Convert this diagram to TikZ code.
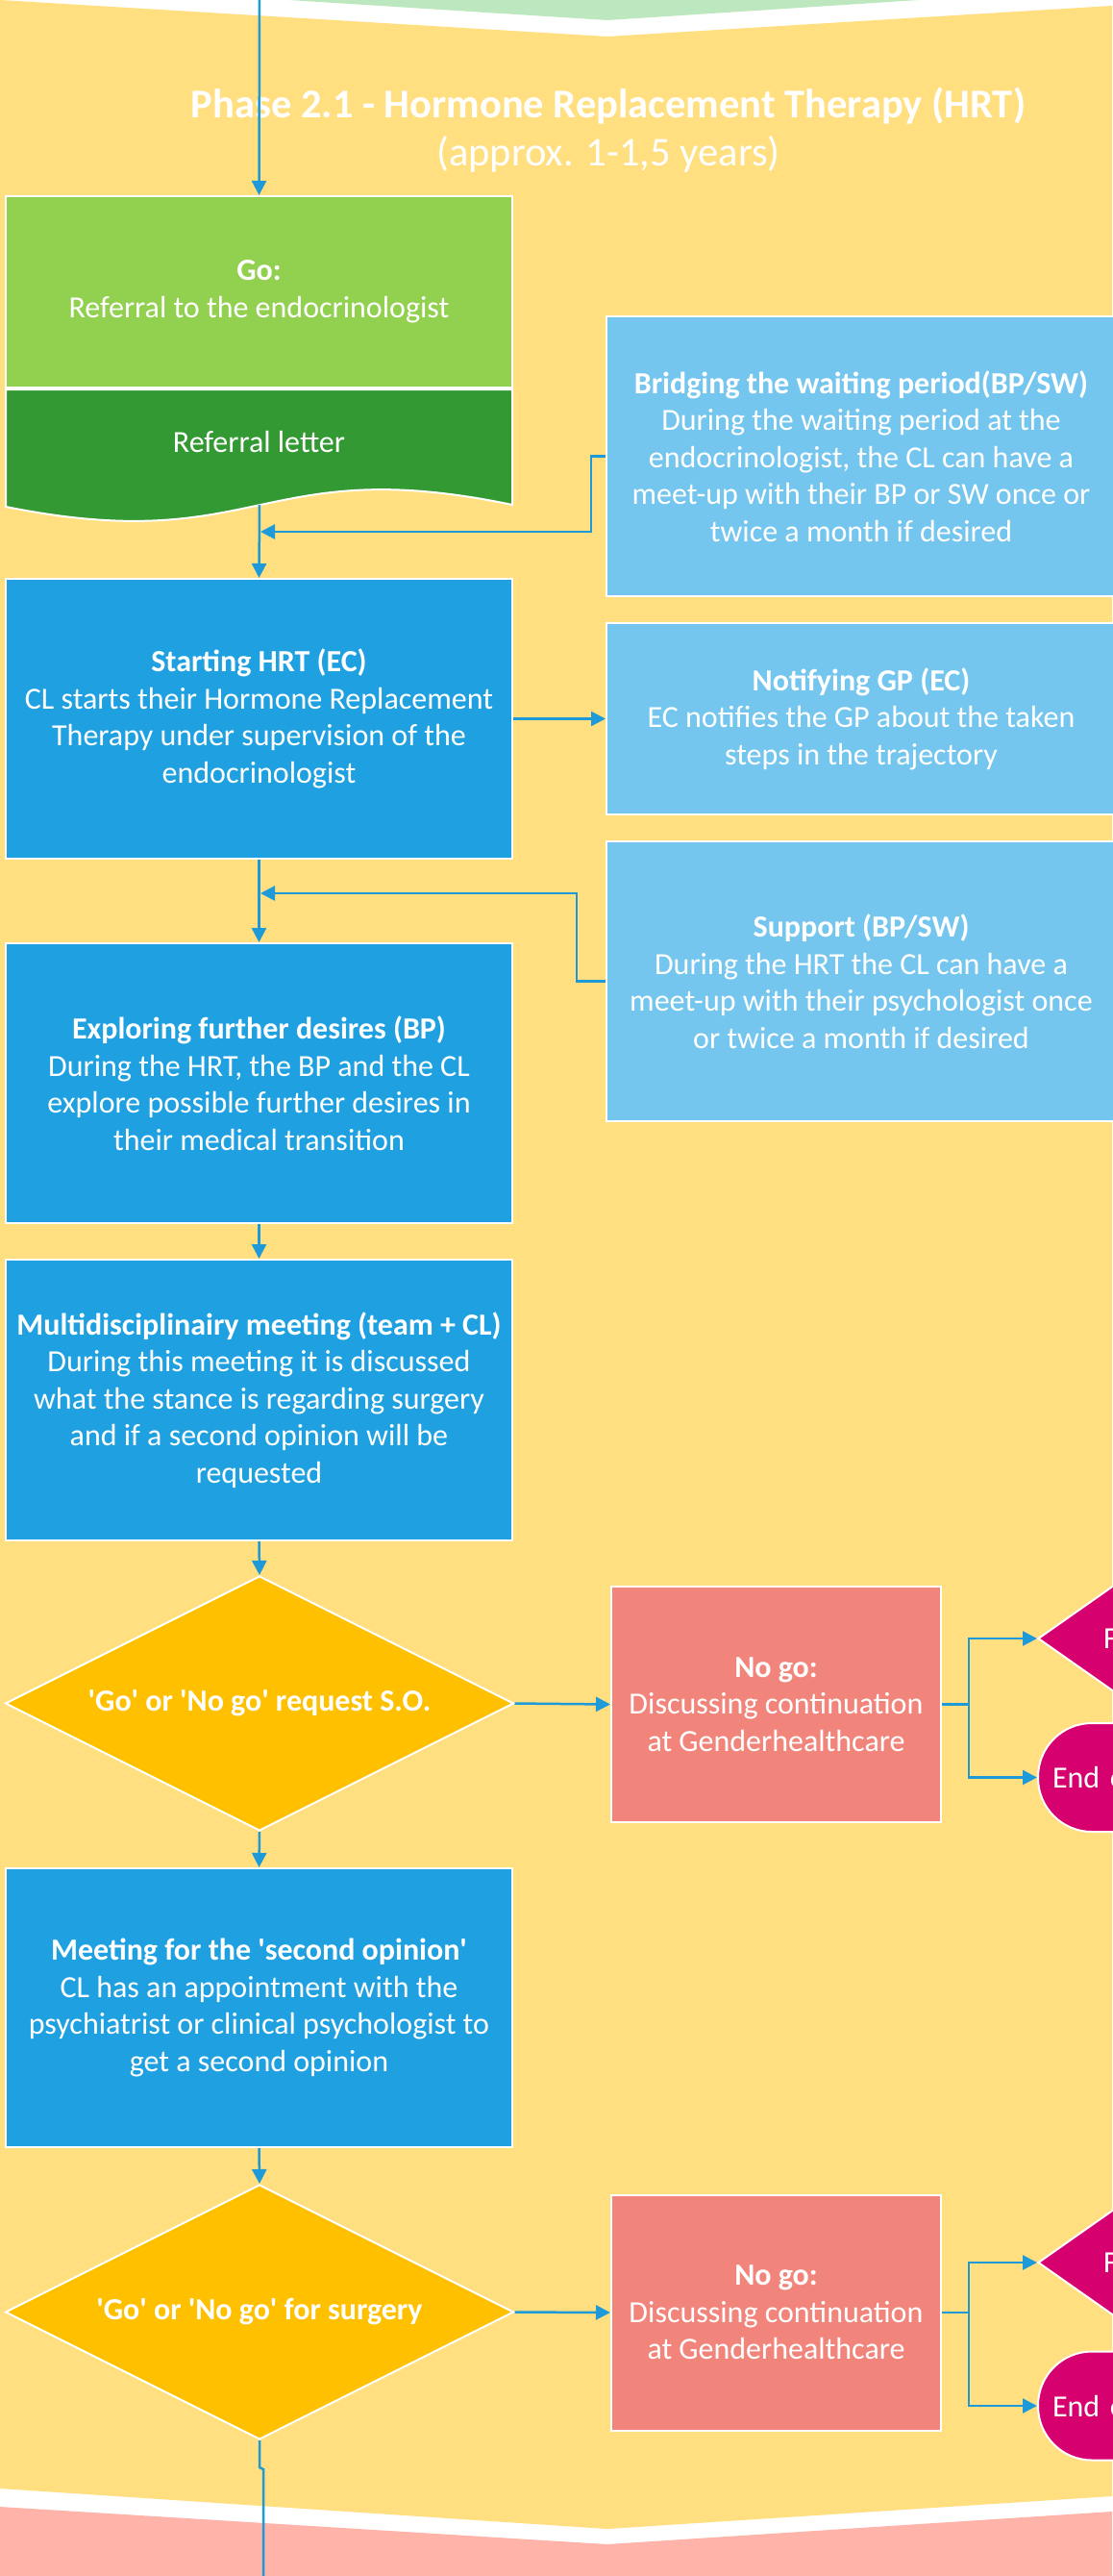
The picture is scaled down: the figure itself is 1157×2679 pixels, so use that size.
\documentclass[tikz,border=0pt]{standalone}
\usepackage{fontspec}
\setmainfont{Carlito}
\usetikzlibrary{shapes.geometric,arrows.meta}
\definecolor{bgyellow}{HTML}{FFDF80}
\definecolor{topgreen}{HTML}{BDE8BF}
\definecolor{botpink}{HTML}{FFB3A9}
\definecolor{lgreen}{HTML}{92D050}
\definecolor{dgreen}{HTML}{339933}
\definecolor{mblue}{HTML}{1FA0E0}
\definecolor{lblue}{HTML}{75C6EE}
\definecolor{amber}{HTML}{FFC000}
\definecolor{salmon}{HTML}{F1857C}
\definecolor{magen}{HTML}{D6006F}
\definecolor{lineblue}{HTML}{1E9AD8}
\newcommand{\myq}{\textquotesingle}
\begin{document}
\begin{tikzpicture}[x=1pt,y=-1pt,
  txt/.style={text=white, align=center, font=\fontsize{32}{38.5}\selectfont},
  box/.style={txt, rectangle, draw=white, line width=2pt, inner sep=0pt, minimum width=527pt},
  rbox/.style={box, fill=lblue, minimum width=530pt},
  nogo/.style={box, fill=salmon, minimum width=343pt, minimum height=245pt},
  dia/.style={txt, diamond, aspect=2, draw=white, line width=2pt, inner sep=0pt, minimum width=529pt, minimum height=265pt},
  mdia/.style={diamond, aspect=1.4, draw=white, line width=2pt, fill=magen, inner sep=0pt, minimum width=350pt, minimum height=246pt},
  term/.style={txt, rectangle, rounded corners=56pt, draw=white, line width=2pt, fill=magen, minimum height=113pt, minimum width=300pt, text width=270pt, inner xsep=15pt, inner ysep=0pt, align=left},
  conn/.style={draw=lineblue, line width=2.5pt},
  arr/.style={conn, -{Triangle[length=15pt,width=15pt]}}
]
\useasboundingbox (0,0) rectangle (1157,2679);
% background bands
\fill[white] (0,0) rectangle (1157,2679);
\fill[bgyellow] (0,0) -- (632,38) -- (1157,6) -- (1157,2596) -- (632,2630) -- (0,2588) -- cycle;
\fill[topgreen] (0,-40) -- (0,-19) -- (632,21) -- (1157,-13) -- (1157,-40) -- cycle;
\fill[botpink] (0,2607) -- (632,2646) -- (1157,2612) -- (1157,2700) -- (0,2700) -- cycle;

% title
\node[text=white, align=center, font=\fontsize{42.5}{50}\selectfont] (title) at (633,135)
  {\textbf{Phase 2.1 - Hormone Replacement Therapy (HRT)}\\(approx. 1-1,5 years)};

% left column
\node[box, fill=lgreen, minimum height=199pt] (go) at (269.5,303.5)
  {\textbf{Go:}\\Referral to the endocrinologist};
\path[fill=dgreen, draw=white, line width=2pt] (6,405) -- (533,405) -- (533,525)
  .. controls (270,470) and (270,580) .. (6,527) -- cycle;
\node[txt] (doc) at (269.5,460) {Referral letter};
\coordinate (docb) at (270,525);
\coordinate (topin) at (270,-5);

\node[box, fill=mblue, minimum height=291pt] (start) at (269.5,747.5)
  {\textbf{Starting HRT (EC)}\\CL starts their Hormone Replacement\\Therapy under supervision of the\\endocrinologist};
\node[box, fill=mblue, minimum height=291pt] (explore) at (269.5,1126.5)
  {\textbf{Exploring further desires (BP)}\\During the HRT, the BP and the CL\\explore possible further desires in\\their medical transition};
\node[box, fill=mblue, minimum height=292pt] (multi) at (269.5,1456)
  {\textbf{Multidisciplinairy meeting (team + CL)}\\During this meeting it is discussed\\what the stance is regarding surgery\\and if a second opinion will be\\requested};
\node[dia, fill=amber] (d1) at (270,1771.5)
  {\textbf{\myq Go\myq{} or \myq No go\myq{} request S.O.}};
\node[box, fill=mblue, minimum height=290pt] (meet) at (269.5,2088)
  {\textbf{Meeting for the \myq second opinion\myq}\\CL has an appointment with the\\psychiatrist or clinical psychologist to\\get a second opinion};
\node[dia, fill=amber] (d2) at (270,2404.5)
  {\textbf{\myq Go\myq{} or \myq No go\myq{} for surgery}};
\coordinate (botout) at (274,2690);

% right column
\node[rbox, minimum height=291pt] (bridge) at (896,474.5)
  {\textbf{Bridging the waiting period(BP/SW)}\\During the waiting period at the\\endocrinologist, the CL can have a\\meet-up with their BP or SW once or\\twice a month if desired};
\node[rbox, minimum height=199pt] (notify) at (896,747.5)
  {\textbf{Notifying GP (EC)}\\EC notifies the GP about the taken\\steps in the trajectory};
\node[rbox, minimum height=291pt] (support) at (896,1020.5)
  {\textbf{Support (BP/SW)}\\During the HRT the CL can have a\\meet-up with their psychologist once\\or twice a month if desired};
\coordinate (j1) at (271,553);
\coordinate (j2) at (271,929);

\node[nogo] (n1) at (807.5,1772.5) {\textbf{No go:}\\Discussing continuation\\at Genderhealthcare};
\node[nogo] (n2) at (807.5,2405) {\textbf{No go:}\\Discussing continuation\\at Genderhealthcare};

\node[mdia] (md1) at (1255,1704) {};
\node[txt, anchor=west, inner sep=0pt] (md1t) at (1148,1704) {F};
\node[term] (e1) at (1230,1848.5) {End o};
\node[mdia] (md2) at (1255,2353) {};
\node[txt, anchor=west, inner sep=0pt] (md2t) at (1148,2353) {F};
\node[term] (e2) at (1230,2502) {End o};

% connectors
\draw[arr] (topin) -- (go.north);
\draw[arr] (docb) -- (start.north);
\draw[arr] (bridge.west) -- ++(-15,0) |- (j1);
\draw[arr] (start.east) -- (notify.west);
\draw[arr] (start.south) -- (explore.north);
\draw[arr] (support.west) -- ++(-30,0) |- (j2);
\draw[arr] (explore.south) -- (multi.north);
\draw[arr] (multi.south) -- (d1.north);
\draw[arr] (d1.east) -- (n1.west);
\draw[arr] (n1.east) -- ++(28,0) |- (md1.west);
\draw[arr] (n1.east) -- ++(28,0) |- (e1.west);
\draw[arr] (d1.south) -- (meet.north);
\draw[arr] (meet.south) -- (d2.north);
\draw[arr] (d2.east) -- (n2.west);
\draw[arr] (n2.east) -- ++(28,0) |- (md2.west);
\draw[arr] (n2.east) -- ++(28,0) |- (e2.west);
\draw[conn] (d2.south) -- ++(0,28) -- ++(4,2) -- (botout);
\end{tikzpicture}
\end{document}
